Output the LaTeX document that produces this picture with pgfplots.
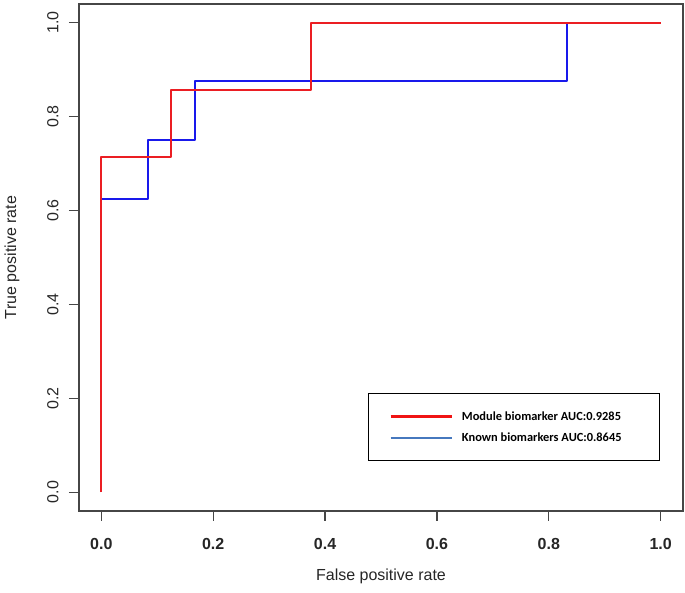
\documentclass[border=0pt]{standalone}
\usepackage{fontspec}
\setmainfont{Liberation Sans}
\newfontfamily\legfont{Carlito}
\usepackage{pgfplots}
\pgfplotsset{compat=1.18}
\definecolor{rocred}{RGB}{235,30,35}
\definecolor{rocblue}{RGB}{25,25,235}
\definecolor{legred}{RGB}{240,20,20}
\definecolor{legblue}{RGB}{70,120,190}
\definecolor{axgray}{RGB}{70,70,70}
\begin{document}
\begin{tikzpicture}
\path[use as bounding box] (-79pt,-82pt) rectangle (606pt,511pt);
\begin{axis}[
  at={(0pt,0pt)}, anchor=south west,
  scale only axis, width=604pt, height=507pt,
  xmin=-0.04, xmax=1.04, ymin=-0.04, ymax=1.04,
  xtick={0,0.2,0.4,0.6,0.8,1}, ytick={0,0.2,0.4,0.6,0.8,1},
  tick pos=left, tick align=outside, major tick length=10pt,
  axis line style={axgray, line width=1.3pt},
  every tick/.style={axgray, line width=1.3pt},
  /pgf/number format/assume math mode=true,
  /pgf/number format/fixed, /pgf/number format/fixed zerofill, /pgf/number format/precision=1,
  xticklabel style={anchor=north, font=\bfseries\fontsize{16}{16}\selectfont, text=black!85},
  yticklabel style={rotate=90, anchor=south, font=\fontsize{16}{16}\selectfont, text=black!85},
  xticklabel shift=14pt,
  yticklabel shift=7pt,
  xlabel={False positive rate}, ylabel={True positive rate},
  label style={font=\fontsize{16}{16}\selectfont, text=black!85},
  xlabel style={at={(axis description cs:0.5,0)}, anchor=center, yshift=-65pt},
  ylabel style={at={(axis description cs:0,0.5)}, anchor=center, rotate=0, yshift=67pt},
  reverse legend,
  legend cell align=left,
  legend style={at={(0.4785,0.2327)}, anchor=north west, draw=black, line width=0.9pt,
    font=\legfont\bfseries\fontsize{12.4}{12.4}\selectfont,
    inner xsep=21pt, inner ysep=16pt, row sep=7pt},
]
\addplot[color=rocblue, line width=2pt, line join=round,
  legend image code/.code={\draw[color=legblue, line width=2.5pt] (0pt,0pt) -- (61pt,0pt);}]
  coordinates {(0,0) (0,0.625) (0.0833,0.625) (0.0833,0.75) (0.1667,0.75) (0.1667,0.875) (0.8333,0.875) (0.8333,1) (1,1)};
\addlegendentry{\hspace*{7pt}Known biomarkers AUC:0.8645\hspace*{15pt}}
\addplot[color=rocred, line width=2pt, line join=round,
  legend image code/.code={\draw[color=legred, line width=2.5pt] (0pt,0pt) -- (61pt,0pt);}]
  coordinates {(0,0) (0,0.7143) (0.125,0.7143) (0.125,0.8571) (0.375,0.8571) (0.375,1) (1,1)};
\addlegendentry{\hspace*{7pt}Module biomarker AUC:0.9285\hspace*{15pt}}
\end{axis}
\end{tikzpicture}
\end{document}
